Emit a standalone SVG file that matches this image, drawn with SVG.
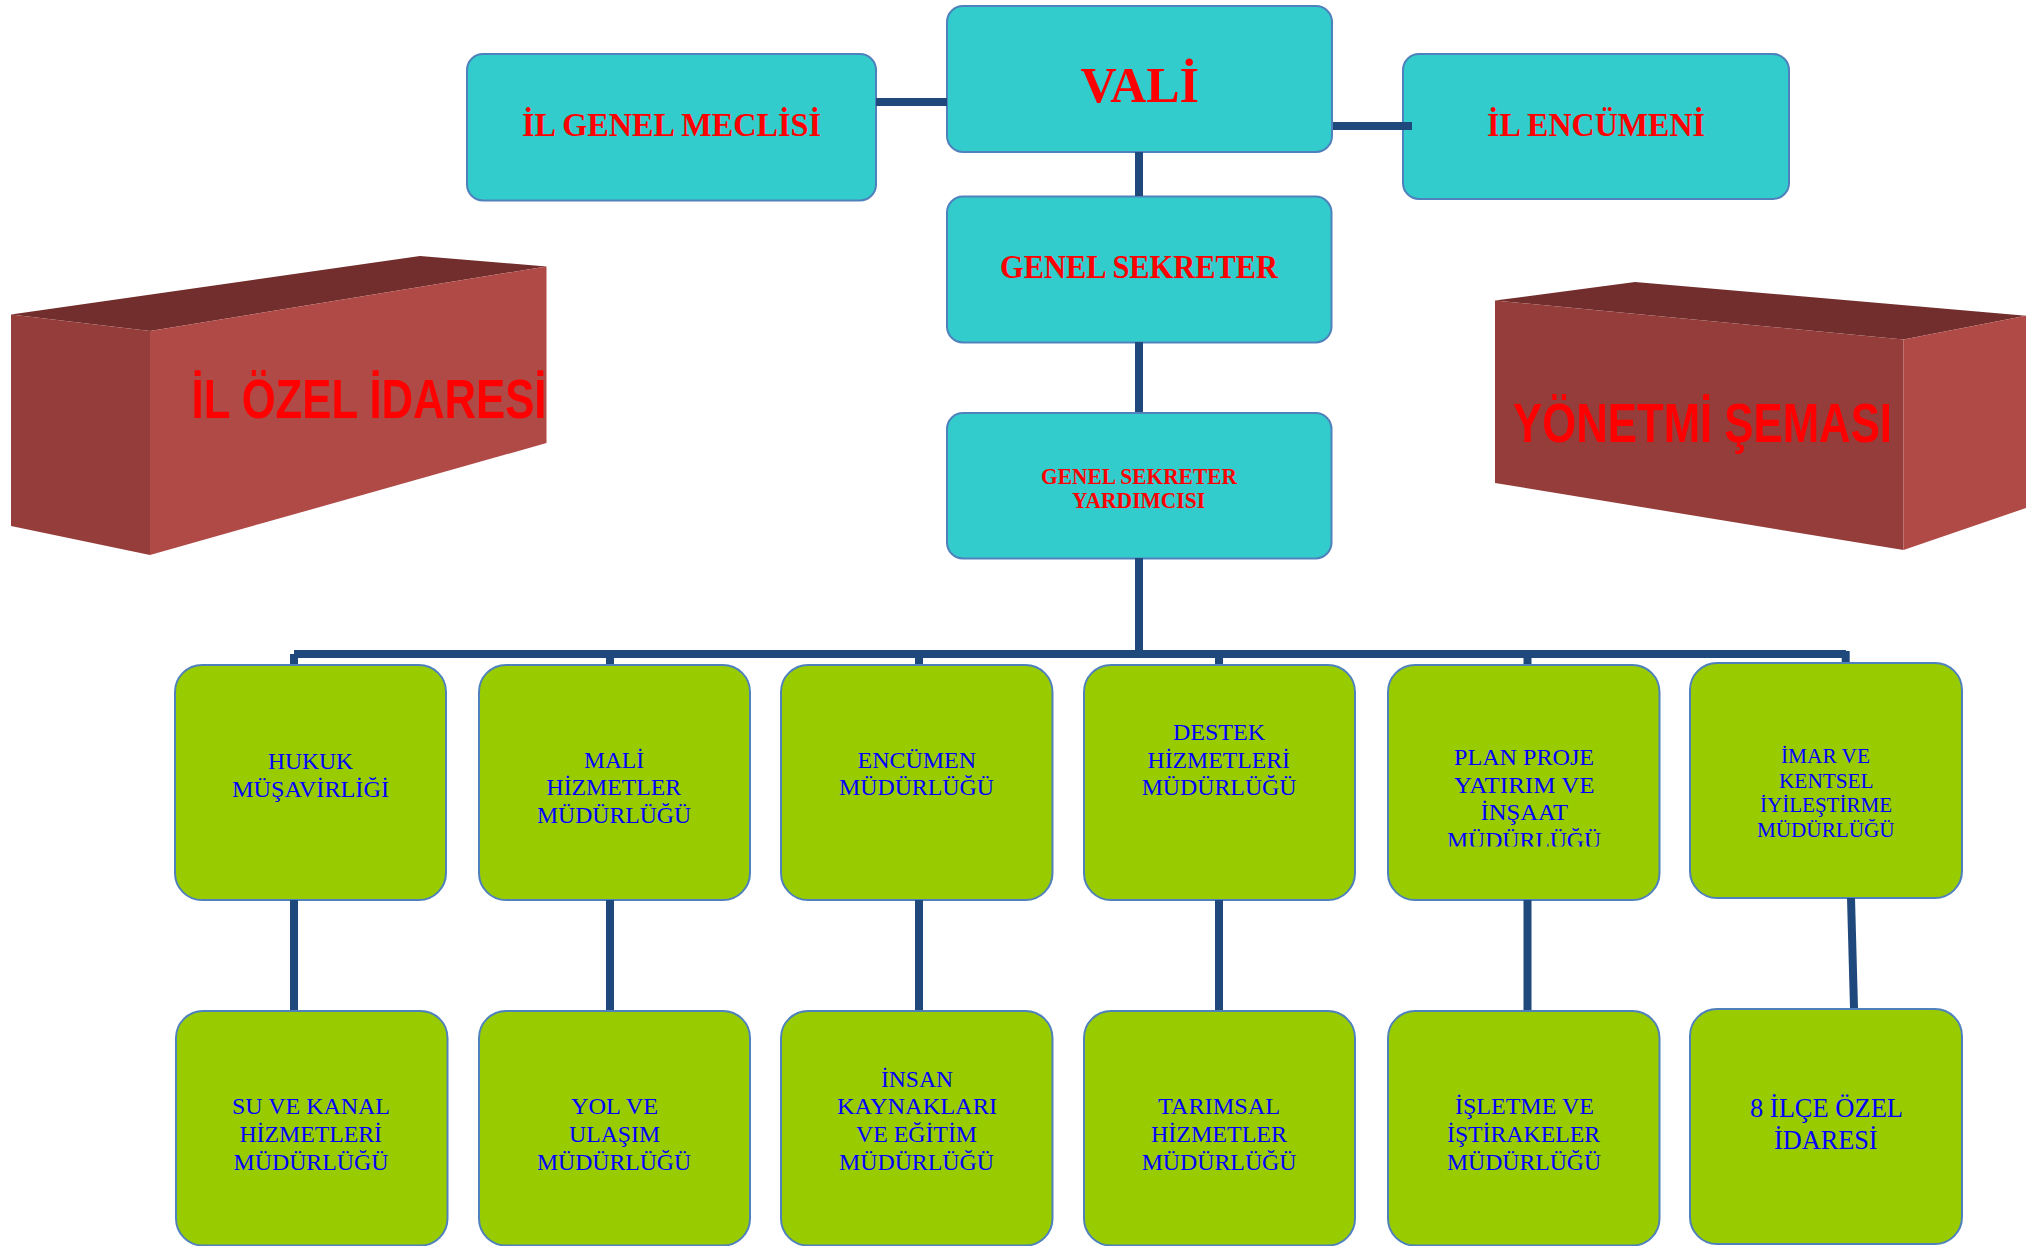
<svg xmlns="http://www.w3.org/2000/svg" width="2040" height="1246" viewBox="0 0 2040 1246">
<style>
.c{fill:#33cccc;stroke:#4f81bd;stroke-width:2}
.g{fill:#99cc00;stroke:#4f81bd;stroke-width:2}
.lk{fill:none;stroke:#1f497d;stroke-width:8}
.r{font-family:"Liberation Serif",serif;font-weight:bold;fill:#ff0000}
.s{font-family:"Liberation Sans",sans-serif;font-weight:bold;fill:#ff0000;font-size:55px}
.b{font-family:"Liberation Serif",serif;fill:#0000ff;font-size:24px}
.top{fill:#722e2d}.dark{fill:#953d3b}.light{fill:#b04a47}
</style>
<defs><clipPath id="cut"><rect x="1440" y="820" width="170" height="25.5"/></clipPath></defs>
<rect width="2040" height="1246" fill="#ffffff"/>
<g id="nodes" transform="translate(0 1)">
<g id="box-il-ozel-idaresi">
<polygon class="top" points="11,313.5 420,255 546.5,265.4 150,330"/>
<polygon class="dark" points="11,313.5 150,330 150,554 11,525"/>
<polygon class="light" points="150,330 546.5,265.4 546.5,442 150,554"/>
<text class="s" x="191.5" y="417.3" textLength="355" lengthAdjust="spacingAndGlyphs">İL ÖZEL İDARESİ</text>
</g>
<g id="box-yonetmi-semasi">
<polygon class="top" points="1495,299.6 1635,281 2026,314.7 1903.5,338.5"/>
<polygon class="dark" points="1495,299.6 1903.5,338.5 1903.5,549 1495,482"/>
<polygon class="light" points="1903.5,338.5 2026,314.7 2026,507 1903.5,549"/>
<text class="s" x="1513" y="441.3" textLength="379" lengthAdjust="spacingAndGlyphs">YÖNETMİ ŞEMASI</text>
</g>
<g id="node-il-genel-meclisi"><rect class="c" x="467" y="53" width="409" height="146.5" rx="16"/><text class="r" font-size="33" x="522" y="135" textLength="299" lengthAdjust="spacingAndGlyphs">İL GENEL MECLİSİ</text></g>
<g id="node-vali"><rect class="c" x="947" y="5" width="385" height="146" rx="16"/><text class="r" font-size="50" x="1080.5" y="101" textLength="118.5" lengthAdjust="spacingAndGlyphs">VALİ</text></g>
<g id="node-il-encumeni"><rect class="c" x="1403" y="53" width="386" height="145" rx="16"/><text class="r" font-size="33" x="1487" y="135" textLength="218" lengthAdjust="spacingAndGlyphs">İL ENCÜMENİ</text></g>
<g id="node-genel-sekreter"><rect class="c" x="947" y="195.5" width="384.5" height="146" rx="16"/><text class="r" font-size="33" x="1000" y="276.5" textLength="278" lengthAdjust="spacingAndGlyphs">GENEL SEKRETER</text></g>
<g id="node-genel-sekreter-yardimcisi"><rect class="c" x="947" y="412" width="384.5" height="145.5" rx="16"/><text class="r" font-size="24"><tspan x="1041" y="483" textLength="196" lengthAdjust="spacingAndGlyphs">GENEL SEKRETER</tspan><tspan x="1072" y="506.5" textLength="133" lengthAdjust="spacingAndGlyphs">YARDIMCISI</tspan></text></g>

<g id="node-hukuk"><rect class="g" x="175" y="664" width="271" height="235" rx="27"/><text class="b" x="268" y="768" textLength="85" lengthAdjust="spacingAndGlyphs">HUKUK</text><text class="b" x="232" y="796" textLength="157" lengthAdjust="spacingAndGlyphs">MÜŞAVİRLİĞİ</text></g>
<g id="node-mali"><rect class="g" x="479" y="664" width="271" height="235" rx="27"/><text class="b" x="584" y="767" textLength="60" lengthAdjust="spacingAndGlyphs">MALİ</text><text class="b" x="546.5" y="794" textLength="134.5" lengthAdjust="spacingAndGlyphs">HİZMETLER</text><text class="b" x="537" y="821.5" textLength="154" lengthAdjust="spacingAndGlyphs">MÜDÜRLÜĞÜ</text></g>
<g id="node-encumen"><rect class="g" x="781" y="664" width="271.5" height="235" rx="27"/><text class="b" x="857.5" y="767" textLength="118.5" lengthAdjust="spacingAndGlyphs">ENCÜMEN</text><text class="b" x="839" y="794" textLength="155" lengthAdjust="spacingAndGlyphs">MÜDÜRLÜĞÜ</text></g>
<g id="node-destek"><rect class="g" x="1084" y="664" width="271" height="235" rx="27"/><text class="b" x="1173" y="739" textLength="92" lengthAdjust="spacingAndGlyphs">DESTEK</text><text class="b" x="1147.5" y="767" textLength="142.5" lengthAdjust="spacingAndGlyphs">HİZMETLERİ</text><text class="b" x="1141.7" y="794" textLength="154.8" lengthAdjust="spacingAndGlyphs">MÜDÜRLÜĞÜ</text></g>
<g id="node-plan-proje"><rect class="g" x="1388" y="664" width="271.5" height="235" rx="27"/><text class="b" x="1454" y="764" textLength="140" lengthAdjust="spacingAndGlyphs">PLAN PROJE</text><text class="b" x="1454" y="792" textLength="140.5" lengthAdjust="spacingAndGlyphs">YATIRIM VE</text><text class="b" x="1480.6" y="819" textLength="87.4" lengthAdjust="spacingAndGlyphs">İNŞAAT</text><text class="b" x="1447" y="847" textLength="154" lengthAdjust="spacingAndGlyphs" clip-path="url(#cut)">MÜDÜRLÜĞÜ</text></g>
<g id="node-imar"><rect class="g" x="1690" y="662" width="272" height="235" rx="27"/><text class="b" style="font-size:21.5px" x="1781" y="762" textLength="89" lengthAdjust="spacingAndGlyphs">İMAR VE</text><text class="b" style="font-size:21.5px" x="1779" y="787" textLength="94.6" lengthAdjust="spacingAndGlyphs">KENTSEL</text><text class="b" style="font-size:21.5px" x="1760" y="811" textLength="132" lengthAdjust="spacingAndGlyphs">İYİLEŞTİRME</text><text class="b" style="font-size:21.5px" x="1757" y="836" textLength="137.5" lengthAdjust="spacingAndGlyphs">MÜDÜRLÜĞÜ</text></g>

<g id="node-su-kanal"><rect class="g" x="176" y="1010" width="271.5" height="234.5" rx="27"/><text class="b" x="232" y="1113" textLength="158" lengthAdjust="spacingAndGlyphs">SU VE KANAL</text><text class="b" x="239.4" y="1141" textLength="142.6" lengthAdjust="spacingAndGlyphs">HİZMETLERİ</text><text class="b" x="233.6" y="1168.5" textLength="154.8" lengthAdjust="spacingAndGlyphs">MÜDÜRLÜĞÜ</text></g>
<g id="node-yol"><rect class="g" x="479" y="1010" width="271" height="234.5" rx="27"/><text class="b" x="571" y="1113" textLength="87" lengthAdjust="spacingAndGlyphs">YOL VE</text><text class="b" x="569" y="1141" textLength="91" lengthAdjust="spacingAndGlyphs">ULAŞIM</text><text class="b" x="537" y="1168.5" textLength="154" lengthAdjust="spacingAndGlyphs">MÜDÜRLÜĞÜ</text></g>
<g id="node-insan"><rect class="g" x="781" y="1010" width="271.5" height="234.5" rx="27"/><text class="b" x="881" y="1086" textLength="72" lengthAdjust="spacingAndGlyphs">İNSAN</text><text class="b" x="837" y="1113" textLength="160" lengthAdjust="spacingAndGlyphs">KAYNAKLARI</text><text class="b" x="856" y="1141" textLength="121" lengthAdjust="spacingAndGlyphs">VE EĞİTİM</text><text class="b" x="839" y="1168.5" textLength="155" lengthAdjust="spacingAndGlyphs">MÜDÜRLÜĞÜ</text></g>
<g id="node-tarimsal"><rect class="g" x="1084" y="1010" width="271" height="234.5" rx="27"/><text class="b" x="1158" y="1113" textLength="122" lengthAdjust="spacingAndGlyphs">TARIMSAL</text><text class="b" x="1151" y="1141" textLength="136" lengthAdjust="spacingAndGlyphs">HİZMETLER</text><text class="b" x="1141.7" y="1168.5" textLength="154.8" lengthAdjust="spacingAndGlyphs">MÜDÜRLÜĞÜ</text></g>
<g id="node-isletme"><rect class="g" x="1388" y="1010" width="271.5" height="234.5" rx="27"/><text class="b" x="1455" y="1113" textLength="139" lengthAdjust="spacingAndGlyphs">İŞLETME VE</text><text class="b" x="1447" y="1141" textLength="153" lengthAdjust="spacingAndGlyphs">İŞTİRAKELER</text><text class="b" x="1447" y="1168.5" textLength="154" lengthAdjust="spacingAndGlyphs">MÜDÜRLÜĞÜ</text></g>
<g id="node-ilce"><rect class="g" x="1690" y="1008" width="272" height="235" rx="27"/><text class="b" style="font-size:27px" x="1750" y="1116" textLength="153" lengthAdjust="spacingAndGlyphs">8 İLÇE ÖZEL</text><text class="b" style="font-size:27px" x="1774" y="1147.5" textLength="103.5" lengthAdjust="spacingAndGlyphs">İDARESİ</text></g>
</g>
<g id="connectors" class="lk">
<path d="M876 102H947"/>
<path d="M1333 126H1412"/>
<path d="M1139 152V196"/>
<path d="M1139 342V412"/>
<path d="M1139 558V650"/>
<path d="M294 654H1846"/>
<path d="M294 654V664"/>
<path d="M610 654V664"/>
<path d="M919 654V664"/>
<path d="M1219 654V664"/>
<path d="M1527.5 654V664"/>
<path d="M1845.7 651V662"/>
<path d="M294 900V1010"/>
<path d="M610 900V1010"/>
<path d="M919 900V1010"/>
<path d="M1219 900V1010"/>
<path d="M1527.5 900V1010"/>
<path d="M1851 898L1854 1008"/>
</g>
</svg>
